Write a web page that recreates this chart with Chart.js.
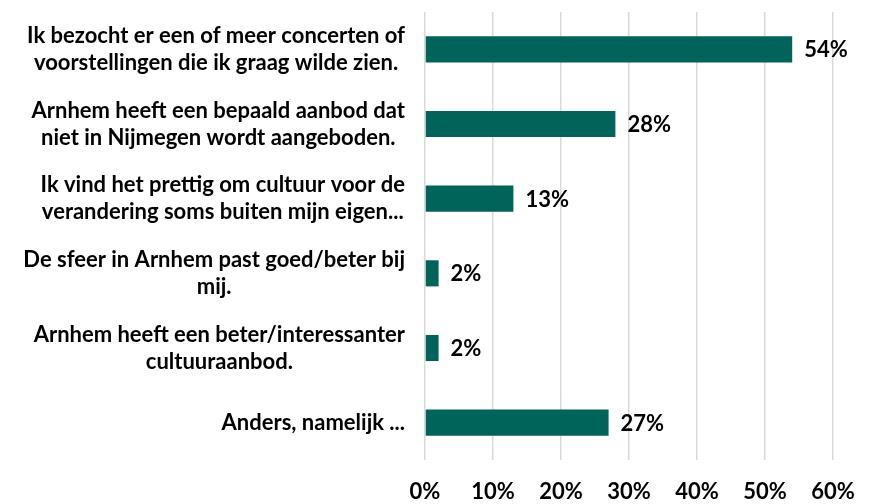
<!DOCTYPE html>
<html>
<head>
<meta charset="utf-8">
<script src="https://cdn.jsdelivr.net/npm/chart.js@4/dist/chart.umd.min.js"></script>
<style>
  html, body { margin: 0; padding: 0; background: #ffffff; }
  #wrap { width: 874px; height: 504px; position: relative; }
</style>
</head>
<body>
<div id="wrap"><canvas id="c"></canvas></div>
<script>
const categories = [
  ["Ik bezocht er een of meer concerten of", "voorstellingen die ik graag wilde zien."],
  ["Arnhem heeft een bepaald aanbod dat", "niet in Nijmegen wordt aangeboden."],
  ["Ik vind het prettig om cultuur voor de", "verandering soms buiten mijn eigen..."],
  ["De sfeer in Arnhem past goed/beter bij", "mij."],
  ["Arnhem heeft een beter/interessanter", "cultuuraanbod."],
  ["Anders, namelijk ..."]
];
const values = [54, 28, 13, 2, 2, 27];
const tickValues = [0, 10, 20, 30, 40, 50, 60];

const FONT = "Lato, 'Open Sans', sans-serif";
const BAR = "#00645a";

const yLabelPlugin = {
  id: 'yLabels',
  afterDraw(chart) {
    const ctx = chart.ctx;
    const y = chart.scales.y;
    const right = chart.chartArea.left - 20;
    ctx.save();
    ctx.font = "bold 22px " + FONT;
    ctx.fillStyle = "#000000";
    ctx.textAlign = "center";
    ctx.textBaseline = "middle";
    const lh = 27;
    categories.forEach((lines, i) => {
      const cy = y.getPixelForValue(i);
      let maxW = 0;
      lines.forEach(l => { maxW = Math.max(maxW, ctx.measureText(l).width); });
      const cx = right - maxW / 2;
      const start = cy - (lines.length - 1) * lh / 2;
      lines.forEach((l, j) => ctx.fillText(l, cx, start + j * lh));
    });
    ctx.restore();
  }
};

const valueLabelPlugin = {
  id: 'valueLabels',
  afterDatasetsDraw(chart) {
    const ctx = chart.ctx;
    const meta = chart.getDatasetMeta(0);
    ctx.save();
    ctx.font = "bold 22px " + FONT;
    ctx.fillStyle = "#000000";
    ctx.textAlign = "left";
    ctx.textBaseline = "middle";
    meta.data.forEach((bar, i) => {
      ctx.fillText(values[i] + "%", bar.x + 12, bar.y + 1);
    });
    ctx.restore();
  }
};

new Chart(document.getElementById('c'), {
  type: 'bar',
  data: {
    labels: categories,
    datasets: [{
      data: values,
      backgroundColor: BAR,
      borderWidth: 0,
      barPercentage: 0.35,
      categoryPercentage: 1.0
    }]
  },
  options: {
    indexAxis: 'y',
    responsive: true,
    maintainAspectRatio: false,
    animation: false,
    layout: { padding: { top: 12, right: 41, bottom: 0, left: 0 } },
    plugins: { legend: { display: false }, tooltip: { enabled: false } },
    scales: {
      x: {
        min: 0, max: 60,
        afterBuildTicks(scale) { scale.ticks = tickValues.map(v => ({ value: v })); },
        afterFit(scale) { scale.height = 44; },
        grid: { color: "#d9d9d9", lineWidth: 1.5, drawTicks: false },
        border: { display: false },
        ticks: {
          padding: 19,
          color: "#000000",
          font: { family: FONT, size: 22, weight: 'bold' },
          callback: v => v + "%"
        }
      },
      y: {
        afterFit(scale) { scale.width = 425; },
        grid: { display: false },
        border: { display: false },
        ticks: { display: false }
      }
    }
  },
  plugins: [yLabelPlugin, valueLabelPlugin]
});
</script>
</body>
</html>
